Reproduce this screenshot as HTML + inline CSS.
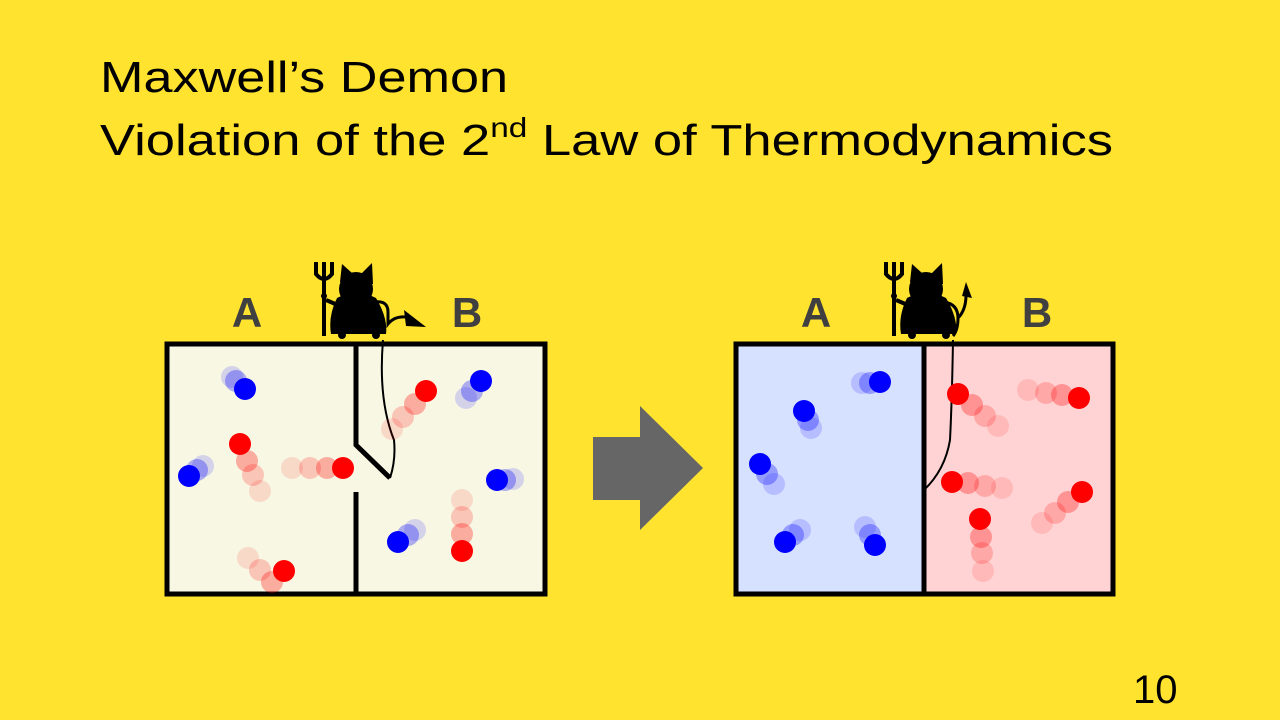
<!DOCTYPE html>
<html><head><meta charset="utf-8"><style>
html,body{margin:0;padding:0;background:#FFE32E;}
svg{display:block}
</style></head><body>
<svg width="1280" height="720" viewBox="0 0 1280 720" xmlns="http://www.w3.org/2000/svg">
<rect width="1280" height="720" fill="#FFE32E"/>
<g font-family="Liberation Sans, sans-serif" fill="#000">
<text x="100" y="92" font-size="44" textLength="408" lengthAdjust="spacingAndGlyphs">Maxwell’s Demon</text>
<text x="100" y="155" font-size="44" textLength="1013" lengthAdjust="spacingAndGlyphs">Violation of the 2<tspan font-size="28" dy="-18">nd</tspan><tspan dy="18"> Law of Thermodynamics</tspan></text>
<text x="1133" y="703" font-size="40">10</text>
</g>
<g font-family="Liberation Sans, sans-serif" font-weight="bold" font-size="42" fill="#404040" text-anchor="middle">
<text x="247" y="327">A</text><text x="467" y="327">B</text>
<text x="816" y="327">A</text><text x="1037" y="327">B</text>
</g>
<defs>
<g id="demon">
<path d="M324 336 V268 M316 262 V274 Q324 284 332 274 V262 M324 262 V280" stroke="#000" stroke-width="4" fill="none"/>
<circle cx="324" cy="296" r="3"/>
<path d="M326 300 L340 306" stroke="#000" stroke-width="4"/>
<circle cx="356" cy="289" r="17"/>
<path d="M340 282 L342 264 L352 273 L362 273 L372 263 L373 284 Z"/>
<path d="M337 298 Q356 288 376 298 Q388 318 386 334 L331 334 Q328 316 337 298 Z"/>
<circle cx="342" cy="335" r="4"/><circle cx="376" cy="335" r="4"/>
</g>
</defs>
<!-- left box -->
<rect x="167" y="344" width="378" height="250" fill="#F8F7E4" stroke="#000" stroke-width="5"/>
<path d="M356 344 V445 L390 478 M356 492 V596" stroke="#000" stroke-width="5" fill="none"/>
<path d="M383 340 Q378 400 394 440 Q396 460 390 478" stroke="#000" stroke-width="2" fill="none"/>
<use href="#demon"/>
<path d="M374 302 Q388 300 388 312 V324 Q396 314 412 318" stroke="#000" stroke-width="3" fill="none"/>
<path d="M404 310 L426 327 L406 326 Z"/>
<!-- right box -->
<rect x="736" y="344" width="188" height="250" fill="#D6E0FF"/>
<rect x="924" y="344" width="189" height="250" fill="#FFD3D3"/>
<rect x="736" y="344" width="377" height="250" fill="none" stroke="#000" stroke-width="5"/>
<path d="M924 344 V596" stroke="#000" stroke-width="5"/>
<path d="M953 340 Q952 400 950 440 Q945 470 924 490" stroke="#000" stroke-width="2" fill="none"/>
<use href="#demon" transform="translate(570,0)"/>
<path d="M944 302 Q958 304 958 318 Q958 330 953 336" stroke="#000" stroke-width="3" fill="none"/>
<path d="M958 318 Q966 310 966 295" stroke="#000" stroke-width="3" fill="none"/>
<path d="M962 296 L966 282 L972 298 Z"/>
<!-- arrow -->
<path d="M593 437 H640 V406 L703 468 L640 530 V500 H593 Z" fill="#666"/>
<!-- particles -->
<g>
<g fill="#0000FF">
<circle cx="232" cy="377" r="11" opacity="0.15"/><circle cx="236" cy="381" r="11" opacity="0.3"/><circle cx="245" cy="389" r="11"/>
<circle cx="203" cy="466" r="11" opacity="0.15"/><circle cx="197" cy="470" r="11" opacity="0.3"/><circle cx="189" cy="476" r="11"/>
<circle cx="466" cy="398" r="11" opacity="0.15"/><circle cx="472" cy="391" r="11" opacity="0.3"/><circle cx="481" cy="381" r="11"/>
<circle cx="513" cy="479" r="11" opacity="0.15"/><circle cx="505" cy="480" r="11" opacity="0.3"/><circle cx="497" cy="480" r="11"/>
<circle cx="415" cy="530" r="11" opacity="0.15"/><circle cx="408" cy="535" r="11" opacity="0.3"/><circle cx="398" cy="542" r="11"/>
<circle cx="862" cy="383" r="11" opacity="0.15"/><circle cx="870" cy="383" r="11" opacity="0.3"/><circle cx="880" cy="382" r="11"/>
<circle cx="811" cy="428" r="11" opacity="0.15"/><circle cx="808" cy="420" r="11" opacity="0.3"/><circle cx="804" cy="411" r="11"/>
<circle cx="774" cy="484" r="11" opacity="0.15"/><circle cx="767" cy="474" r="11" opacity="0.3"/><circle cx="760" cy="464" r="11"/>
<circle cx="800" cy="530" r="11" opacity="0.15"/><circle cx="793" cy="535" r="11" opacity="0.3"/><circle cx="785" cy="542" r="11"/>
<circle cx="865" cy="527" r="11" opacity="0.15"/><circle cx="870" cy="535" r="11" opacity="0.3"/><circle cx="875" cy="545" r="11"/>
</g>
<g fill="#FF0000">
<circle cx="260" cy="491" r="11" opacity="0.12"/><circle cx="253" cy="475" r="11" opacity="0.2"/><circle cx="247" cy="461" r="11" opacity="0.3"/><circle cx="240" cy="444" r="11"/>
<circle cx="292" cy="468" r="11" opacity="0.12"/><circle cx="310" cy="468" r="11" opacity="0.2"/><circle cx="327" cy="468" r="11" opacity="0.3"/><circle cx="343" cy="468" r="11"/>
<circle cx="248" cy="558" r="11" opacity="0.12"/><circle cx="260" cy="570" r="11" opacity="0.2"/><circle cx="272" cy="582" r="11" opacity="0.3"/><circle cx="284" cy="571" r="11"/>
<circle cx="392" cy="429" r="11" opacity="0.12"/><circle cx="403" cy="417" r="11" opacity="0.2"/><circle cx="415" cy="404" r="11" opacity="0.3"/><circle cx="426" cy="391" r="11"/>
<circle cx="462" cy="500" r="11" opacity="0.12"/><circle cx="462" cy="517" r="11" opacity="0.2"/><circle cx="462" cy="534" r="11" opacity="0.3"/><circle cx="462" cy="551" r="11"/>
<circle cx="998" cy="426" r="11" opacity="0.12"/><circle cx="985" cy="416" r="11" opacity="0.2"/><circle cx="972" cy="405" r="11" opacity="0.3"/><circle cx="958" cy="394" r="11"/>
<circle cx="1028" cy="390" r="11" opacity="0.12"/><circle cx="1046" cy="393" r="11" opacity="0.2"/><circle cx="1062" cy="395" r="11" opacity="0.3"/><circle cx="1079" cy="398" r="11"/>
<circle cx="1002" cy="488" r="11" opacity="0.12"/><circle cx="985" cy="486" r="11" opacity="0.2"/><circle cx="968" cy="483" r="11" opacity="0.3"/><circle cx="952" cy="482" r="11"/>
<circle cx="1042" cy="523" r="11" opacity="0.12"/><circle cx="1055" cy="513" r="11" opacity="0.2"/><circle cx="1068" cy="502" r="11" opacity="0.3"/><circle cx="1082" cy="492" r="11"/>
<circle cx="983" cy="571" r="11" opacity="0.12"/><circle cx="982" cy="553" r="11" opacity="0.2"/><circle cx="981" cy="537" r="11" opacity="0.3"/><circle cx="980" cy="519" r="11"/>
</g>
</g>
</svg>
</body></html>
